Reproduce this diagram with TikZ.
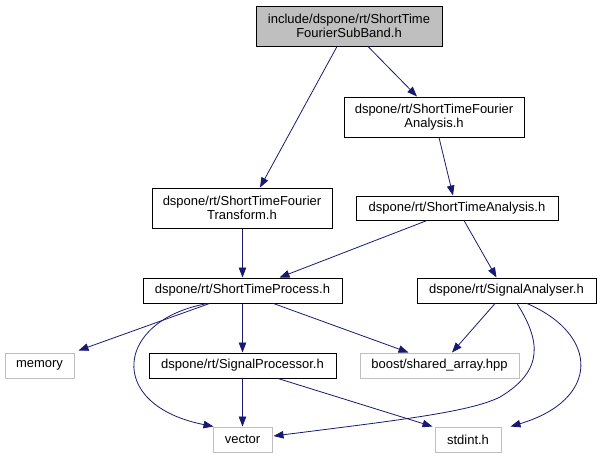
\documentclass[tikz,border=0pt]{standalone}
\usepackage{fontspec}
\setmainfont{Liberation Sans}
\usetikzlibrary{arrows.meta}
\definecolor{edgeblue}{RGB}{25,25,112}
\definecolor{boxgray}{RGB}{191,191,191}
\definecolor{extgray}{RGB}{191,191,191}
\tikzset{
  filebox/.style={draw=black, line width=1pt, inner sep=0pt, align=center, font=\fontsize{13}{14}\selectfont},
  extbox/.style={draw=extgray, line width=1pt, inner sep=0pt, align=center, font=\fontsize{13}{14}\selectfont},
  dep/.style={draw=edgeblue, line width=0.8pt, -{Triangle[length=10pt,width=7.5pt]}},
}
\begin{document}
\begin{tikzpicture}[x=1pt,y=-1pt]
\useasboundingbox (0,0) rectangle (601,459);
\node[filebox, fill=boxgray, minimum width=186pt, minimum height=40pt] (top) at (349,26) {include/dspone/rt/ShortTime\\FourierSubBand.h};
\node[filebox, fill=white, minimum width=180pt, minimum height=40pt] (stfa) at (434,117) {dspone/rt/ShortTimeFourier\\Analysis.h};
\node[filebox, fill=white, minimum width=180pt, minimum height=40pt] (stft) at (242,208) {dspone/rt/ShortTimeFourier\\Transform.h};
\node[filebox, fill=white, minimum width=202pt, minimum height=24pt] (sta) at (457,208) {dspone/rt/ShortTimeAnalysis.h};
\node[filebox, fill=white, minimum width=199pt, minimum height=25pt] (stp) at (242.5,290.5) {dspone/rt/ShortTimeProcess.h};
\node[filebox, fill=white, minimum width=179pt, minimum height=25pt] (sa) at (506.5,290.5) {dspone/rt/SignalAnalyser.h};
\node[extbox, minimum width=69pt, minimum height=25pt] (mem) at (39.5,365.5) {memory};
\node[filebox, fill=white, minimum width=187pt, minimum height=25pt] (sp) at (242.5,365.5) {dspone/rt/SignalProcessor.h};
\node[extbox, minimum width=159pt, minimum height=25pt] (boost) at (439.5,365.5) {boost/shared\_array.hpp};
\node[extbox, minimum width=59pt, minimum height=25pt] (vec) at (242.5,439.5) {vector};
\node[extbox, minimum width=66pt, minimum height=25pt] (std) at (468,439.5) {stdint.h};

\draw[dep] ([xshift=-12pt]top.south) -- ([xshift=18pt]stft.north);
\draw[dep] ([xshift=19pt]top.south) -- ([xshift=-17pt]stfa.north);
\draw[dep] ([xshift=5pt]stfa.south) -- ([xshift=-4pt]sta.north);
\draw[dep] ([xshift=0.5pt]stft.south) -- (stp.north);
\draw[dep] ([xshift=-30pt]sta.south) -- ([xshift=37pt]stp.north);
\draw[dep] ([xshift=7pt]sta.south) -- ([xshift=-10pt]sa.north);
\draw[dep] ([xshift=-33pt]stp.south) -- ([xshift=4pt,yshift=2pt]mem.north east);
\draw[dep] ([xshift=-35pt]stp.south) .. controls (115,320) and (105,405) .. ([xshift=1pt]vec.north west);
\draw[dep] (stp.south) -- (sp.north);
\draw[dep] ([xshift=31pt]stp.south) -- ([xshift=-31pt]boost.north);
\draw[dep] ([xshift=-11.5pt]sa.south) -- ([xshift=12.5pt]boost.north);
\draw[dep] ([xshift=10.5pt]sa.south) .. controls (540,340) and (545,370) .. (500,397) .. controls (470,412) and (400,420) .. ([xshift=1pt,yshift=3.5pt]vec.east);
\draw[dep] ([xshift=20.5pt]sa.south) .. controls (600,335) and (600,400) .. ([xshift=9pt]std.north east);
\draw[dep] (sp.south) -- (vec.north);
\draw[dep] ([xshift=35.5pt]sp.south) -- ([xshift=-2pt]std.north west);
\end{tikzpicture}
\end{document}
